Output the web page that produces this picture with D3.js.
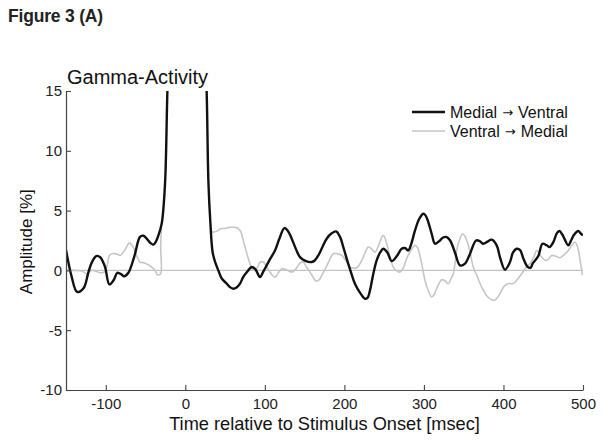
<!DOCTYPE html>
<html><head><meta charset="utf-8">
<script src="https://cdn.jsdelivr.net/npm/d3@7"></script>
<style>body{margin:0;background:#fff;} svg{display:block;}</style>
</head><body>
<script>
// ---- data ----
const xTicks = [-100, 0, 100, 200, 300, 400, 500];
const yTicks = [-10, -5, 0, 5, 10, 15];
const seriesFrom = ["Medial", "Ventral"];
const seriesTo = ["Ventral", "Medial"];

const timeMV = [-150,-143,-136,-128,-122,-118,-112,-107,-101,-95.5,-90,-85.5,-80,-77,-71.6,-64,-57,-52.8,-47.8,-44,-40.2,-37,-34,-29.7,-25.5,-22.6,-20,-10,0,15,24,26.9,29,31.5,34.4,38,41.5,46,52,56.2,60.4,64,68.8,72.9,78,83.4,88,93.9,98,102.3,107,112.8,118,124.5,129,133.8,139,144.2,151,158.9,163,167.2,172,177.7,184,189.5,194.5,198,202.9,208,213.3,220,225.9,229,232.2,236,240.6,245,248.9,254,259.5,266,272,276.2,280.4,284,288.8,294,299.2,302,305.5,310,313.9,320.2,324,328.6,333,339,345.4,351.6,358,365.5,370,374.6,380,385.2,391.5,396,401.9,408.2,412,416.6,421,425,430.4,434,437,443.8,449,454.3,458,463,467,470.2,474,477,481.5,485,489,494.1,497,500];
const valMV = [1.73,-0.5,-1.8,-1.5,-0.2,0.6,1.2,1.1,0.3,-1.17,-0.8,-0.2,-0.35,-0.5,-0.2,1.2,2.8,2.9,2.6,2.3,2.15,2.4,2.9,3.9,7.25,14.8,20,30,35,30,20,14.8,7.5,4,1.5,0.6,0,-0.7,-1.1,-1.4,-1.53,-1.45,-1.1,-0.55,-0.1,0.28,0.1,-0.56,-0.1,0.42,1.0,1.67,2.6,3.54,3.3,2.65,1.8,1.11,0.8,0.7,0.85,1.25,1.9,2.65,3.1,3.26,2.8,2.1,0.98,-0.1,-1.11,-1.9,-2.37,-2.3,-1.67,-0.4,0.84,1.5,1.81,1.5,0.78,1.2,1.81,1.87,1.67,2.2,3.34,4.3,4.74,4.6,4.04,3.0,2.23,2.5,2.75,2.79,2.5,1.5,0.42,0.56,1.4,2.5,2.45,2.23,2.4,2.57,2.09,1.0,0.06,0.7,1.5,1.81,1.7,1.0,0.3,0.22,0.6,1.2,2.23,2.1,1.95,2.4,3.1,3.29,3.0,2.6,2.09,2.5,3.0,3.29,3.1,2.93];

const timeVM = [-150,-140,-130,-124,-120,-115.7,-111,-107,-101,-98,-95.5,-92,-88.4,-84,-82,-76,-70.4,-67,-65.4,-61,-57,-53,-50.7,-46,-42.3,-38,-35.2,-31.2,-31,-30,0,33,35.2,40,45,50,55,60,63,66.6,70,72.9,77,81.3,84,87.6,91,94,98,102,106.5,110,112.8,117,121.2,127,133.8,140,144,148.4,152,156.8,160,164.3,168,171.5,178,186,191,196.6,202,207,211,215.4,220,225,230,234,238.5,243,248.9,253,257,261.5,265,269.9,274,278.3,283,288.8,292,295,298,301.3,305,309.7,313,316,319,322.3,326,330.6,334,336.9,339,341.2,345,348.7,352,355.8,359,362,367,372.6,380,384,388.5,392,395.6,399,401.9,407,412.4,417,422.9,428,433.4,438,441.8,447,452.2,456,460.6,465,471.1,476,481.5,486,489.9,493,496,499.2];
const valVM = [0,0,-0.05,-0.28,-0.05,0,-0.1,-0.2,-0.1,0.5,1.25,1.4,1.4,1.3,1.25,1.7,2.3,2.1,1.95,1.2,0.7,0.65,0.6,0.45,0.28,0.0,-0.36,-0.3,2.0,3.5,null,3.3,3.2,3.3,3.5,3.5,3.6,3.6,3.6,3.49,3.2,2.5,1.5,0.56,0.1,0,0.3,0.7,0.7,0.3,-0.14,-0.45,-0.56,-0.2,0.14,0.05,-0.14,0.2,0.6,0.7,0.3,-0.14,-0.5,-0.89,-0.8,-0.42,0.4,1.39,1.4,1.25,0.8,0.28,0.2,0.22,0.6,1.3,1.95,1.8,1.53,2.1,2.93,2.3,1.2,0.28,0.0,-0.14,0.2,0.98,1.6,2.09,1.9,1.25,0.3,-0.84,-1.6,-2.23,-2.0,-1.53,-1.1,-0.78,-0.85,-1.11,-0.7,-0.28,0.5,1.67,2.6,3.07,2.8,2.09,1.2,0.28,-0.5,-1.39,-2.2,-2.4,-2.51,-2.3,-1.95,-1.5,-1.25,-1.1,-1.11,-0.8,-0.28,0.2,0.56,1.1,1.67,1.2,0.84,0.9,1.25,1.2,1.06,1.3,1.67,2.1,2.37,2.0,1.0,-0.42];

// ---- layout ----
const W = 602, H = 440;
const m = {left: 66, right: 19, top: 91, bottom: 50};
const FONT = "Arial, 'Liberation Sans', sans-serif";
const svg = d3.select("body").append("svg").attr("width", W).attr("height", H)
  .style("font-family", FONT);

const x = d3.scaleLinear().domain([-150, 500]).range([m.left, W - m.right]);
const y = d3.scaleLinear().domain([-10, 15]).range([H - m.bottom, m.top]);

svg.append("defs").append("clipPath").attr("id", "clip")
  .append("rect").attr("x", m.left).attr("y", m.top).attr("width", x(500) - m.left).attr("height", y(-10) - m.top);

// Figure label
svg.append("text").attr("x", 8).attr("y", 22).attr("font-size", 17.5).attr("font-weight", "bold")
  .attr("fill", "#222").attr("letter-spacing", -0.2).text("Figure 3 (A)");

// zero line
svg.append("line").attr("x1", x(-150)).attr("x2", x(500)).attr("y1", y(0)).attr("y2", y(0))
  .attr("stroke", "#c4c4c4").attr("stroke-width", 1.3);

const g = svg.append("g").attr("clip-path", "url(#clip)");
const lineGen = d3.line().defined(d => d[1] != null)
  .x(d => x(d[0])).y(d => y(d[1])).curve(d3.curveCatmullRom.alpha(0.5));

g.append("path").datum(timeVM.map((t, i) => [t, valVM[i]]))
  .attr("d", lineGen).attr("fill", "none").attr("stroke", "#c6c6c6").attr("stroke-width", 1.6);
g.append("path").datum(timeMV.map((t, i) => [t, valMV[i]]))
  .attr("d", lineGen).attr("fill", "none").attr("stroke", "#111").attr("stroke-width", 2.4);

// axes
const axisColor = "#444";
const fmt = d => String(d);
const xAxis = svg.append("g").attr("transform", `translate(0,${y(-10)})`)
  .call(d3.axisBottom(x).tickValues(xTicks).tickFormat(fmt).tickSizeInner(-5).tickSizeOuter(0).tickPadding(10));
const yAxis = svg.append("g").attr("transform", `translate(${x(-150)},0)`)
  .call(d3.axisLeft(y).tickValues(yTicks).tickFormat(fmt).tickSizeInner(-5).tickSizeOuter(0).tickPadding(4));
[xAxis, yAxis].forEach(a => {
  a.select(".domain").attr("stroke", axisColor).attr("stroke-width", 1.2);
  a.selectAll(".tick line").attr("stroke", axisColor).attr("stroke-width", 1.1);
  a.selectAll(".tick text").attr("font-size", 15).attr("fill", "#222").attr("font-family", FONT);
});
xAxis.selectAll(".tick text").attr("dy", "0.6em");

// titles
svg.append("text").attr("x", 67).attr("y", 84).attr("font-size", 20).attr("fill", "#111").text("Gamma-Activity");
svg.append("text").attr("x", (x(-150) + x(500)) / 2).attr("y", 430).attr("text-anchor", "middle")
  .attr("font-size", 18.2).attr("fill", "#111").text("Time relative to Stimulus Onset [msec]");
svg.append("text").attr("transform", `translate(32,${y(2.4)}) rotate(-90)`).attr("text-anchor", "middle")
  .attr("font-size", 17).attr("fill", "#111").text("Amplitude [%]");

// legend
const legendColors = ["#111", "#c6c6c6"], legendWidths = [2.4, 1.6];
seriesFrom.forEach((from, i) => {
  const ly = 112 + i * 19;
  svg.append("line").attr("x1", 412).attr("x2", 445).attr("y1", ly).attr("y2", ly)
    .attr("stroke", legendColors[i]).attr("stroke-width", legendWidths[i]);
  const t = svg.append("text").attr("x", 450).attr("y", ly + 6).attr("font-size", 16).attr("fill", "#111");
  t.append("tspan").text(from);
  t.append("tspan").attr("font-family", "'DejaVu Sans', sans-serif").attr("font-size", 13)
    .attr("dx", 5).attr("dy", -1).text("\u2192");
  t.append("tspan").attr("dx", 5).attr("dy", 1).text(seriesTo[i]);
});
</script>
</body></html>
